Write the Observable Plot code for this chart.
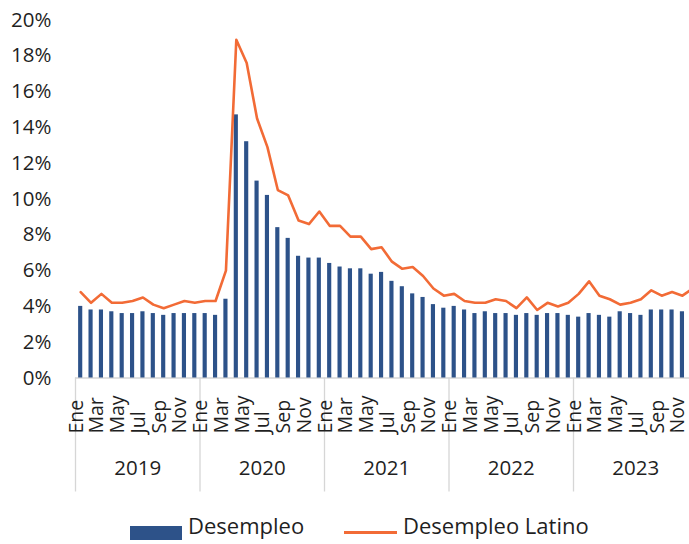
<!DOCTYPE html>
<html>
<head>
<meta charset="utf-8">
<script src="https://cdn.jsdelivr.net/npm/d3@7"></script>
<script src="https://cdn.jsdelivr.net/npm/@observablehq/plot@0.6"></script>
<style>
  html, body { margin: 0; padding: 0; background: white; overflow: hidden; }
  #wrap { width: 689px; }
  #legend { position: relative; width: 689px; height: 39px; font-family: 'Open Sans', sans-serif; font-size: 22px; color: #1f1f1f; }
  #legend .sw { position: absolute; }
  #legend .lab { position: absolute; top: 5px; line-height: 30px; white-space: nowrap; }
</style>
</head>
<body>
<div id="wrap"></div>
<script>
// ---- data ----
const years = ["2019", "2020", "2021", "2022", "2023"];
const months = ["Ene", "Feb", "Mar", "Abr", "May", "Jun", "Jul", "Ago", "Sep", "Oct", "Nov", "Dic"];
const desempleo = [
  4.0, 3.8, 3.8, 3.7, 3.6, 3.6, 3.7, 3.6, 3.5, 3.6, 3.6, 3.6,
  3.6, 3.5, 4.4, 14.7, 13.2, 11.0, 10.2, 8.4, 7.8, 6.8, 6.7, 6.7,
  6.4, 6.2, 6.1, 6.1, 5.8, 5.9, 5.4, 5.1, 4.7, 4.5, 4.1, 3.9,
  4.0, 3.8, 3.6, 3.7, 3.6, 3.6, 3.5, 3.6, 3.5, 3.6, 3.6, 3.5,
  3.4, 3.6, 3.5, 3.4, 3.7, 3.6, 3.5, 3.8, 3.8, 3.8, 3.7, 3.7
];
const desempleoLatino = [
  4.8, 4.2, 4.7, 4.2, 4.2, 4.3, 4.5, 4.1, 3.9, 4.1, 4.3, 4.2,
  4.3, 4.3, 6.0, 18.9, 17.6, 14.5, 12.9, 10.5, 10.2, 8.8, 8.6, 9.3,
  8.5, 8.5, 7.9, 7.9, 7.2, 7.3, 6.5, 6.1, 6.2, 5.7, 5.0, 4.6,
  4.7, 4.3, 4.2, 4.2, 4.4, 4.3, 3.9, 4.5, 3.8, 4.2, 4.0, 4.2,
  4.7, 5.4, 4.6, 4.4, 4.1, 4.2, 4.4, 4.9, 4.6, 4.8, 4.6, 5.0
];
const yTicks = [0, 2, 4, 6, 8, 10, 12, 14, 16, 18, 20];
const seriesNames = ["Desempleo", "Desempleo Latino"];

// ---- table ----
const rows = desempleo.map((v, i) => ({
  i,
  year: years[Math.floor(i / 12)],
  month: months[i % 12],
  desempleo: v,
  latino: desempleoLatino[i]
}));
const n = rows.length;
const labelRows = rows.filter(d => d.i % 2 === 0);
const yearRows = years.map((y, k) => ({year: y, c: k * 12 + 5.5}));
const bounds = years.map((y, k) => k * 12 - 0.5).concat([n - 0.5]);

const blue = "#2d5289";
const orange = "#f26b36";
const grid = "#d6d6d6";
const ink = "#1f1f1f";

const chart = Plot.plot({
  width: 689,
  height: 505,
  marginLeft: 75,
  marginRight: 0,
  marginTop: 19.5,
  marginBottom: 127.5,
  style: {fontFamily: "'Open Sans', sans-serif", fontSize: "20px", color: ink, background: "white"},
  x: {type: "linear", domain: [-0.5, n - 0.5], range: [75, 697.5], axis: null},
  y: {domain: [0, 20], axis: null},
  marks: [
    Plot.axisY(yTicks, {tickSize: 0, tickPadding: 24, tickFormat: d => d + "%", fontSize: 20.5, label: null, fill: ink}),
    Plot.ruleY([0], {stroke: grid, strokeWidth: 1.3}),
    Plot.ruleX(bounds, {y1: 0, y2: 0, insetBottom: -114, stroke: grid, strokeWidth: 1.3}),
    Plot.rectY(rows, {x1: d => d.i - 0.2, x2: d => d.i + 0.2, y: "desempleo", fill: blue}),
    Plot.lineY(rows, {x: "i", y: "latino", stroke: orange, strokeWidth: 2.6, strokeLinejoin: "round"}),
    Plot.text(labelRows, {x: "i", frameAnchor: "bottom", text: "month", rotate: -90, textAnchor: "start", dy: 55.5, dx: 2, fontSize: 19.5, fill: ink}),
    Plot.text(yearRows, {x: "c", frameAnchor: "bottom", text: "year", dy: 96.5, fontSize: 20.5, fill: ink})
  ]
});
document.getElementById("wrap").appendChild(chart);

// ---- legend ----
const legend = document.createElement("div");
legend.id = "legend";
legend.innerHTML =
  `<div class="sw" style="left:130px;top:21px;width:52px;height:14px;background:${blue}"></div>` +
  `<div class="lab" style="left:188px">${seriesNames[0]}</div>` +
  `<div class="sw" style="left:344px;top:25.5px;width:53px;height:3px;background:${orange}"></div>` +
  `<div class="lab" style="left:403px">${seriesNames[1]}</div>`;
document.getElementById("wrap").appendChild(legend);
</script>
</body>
</html>
